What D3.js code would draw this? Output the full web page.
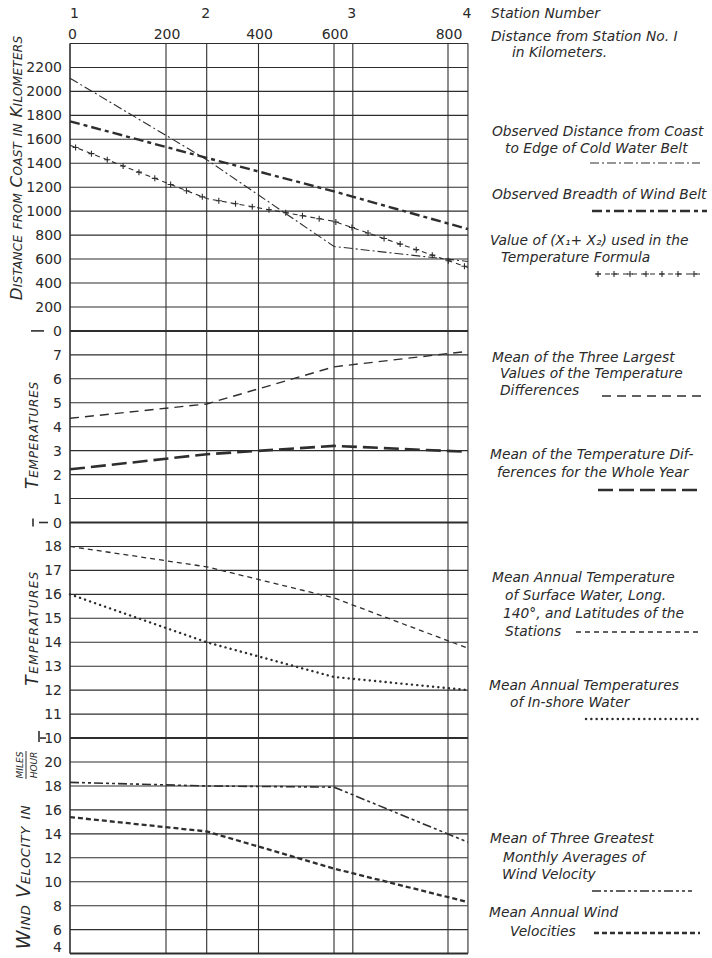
<!DOCTYPE html>
<html>
<head>
<meta charset="utf-8">
<script src="https://cdn.jsdelivr.net/npm/d3@7/dist/d3.min.js"></script>
<style>
  html, body { margin: 0; padding: 0; background: #fff; }
  svg { display: block; }
  .tick-label { font-family: "DejaVu Sans", sans-serif; font-size: 14px; fill: #2a2a2a; }
  .legend { font-family: "DejaVu Sans", sans-serif; font-style: italic; font-size: 13.8px; fill: #2a2a2a; }
  .title { font-family: "DejaVu Sans", sans-serif; font-style: italic; font-variant: small-caps; fill: #2a2a2a; }
</style>
</head>
<body>
<svg id="chart" width="712" height="958"></svg>
<script>
// Stations along the section and the distance scale along the top
const stationNumbers = ["1", "2", "3", "4"];
const stationKm = [0, 288, 633, 835];
const kmTicks = [0, 200, 400, 600, 800];
// Distances at which the observations are plotted
const sampleKm = [0, 288, 600, 835];

// Panel 1: distance from coast (km)
const coldWaterEdge = [2110, 1430, 705, 580];
const windBeltBreadth = [1750, 1445, 1165, 850];
const x1PlusX2 = [1550, 1105, 915, 530];
const distanceTicks = [0, 200, 400, 600, 800, 1000, 1200, 1400, 1600, 1800, 2000, 2200];

// Panel 2: temperature differences
const meanThreeLargestDiff = [4.35, 4.95, 6.5, 7.15];
const meanDiffWholeYear = [2.22, 2.85, 3.2, 2.95];
const diffTicks = [0, 1, 2, 3, 4, 5, 6, 7];

// Panel 3: water temperatures
const surfaceWaterTemp = [18.0, 17.15, 15.85, 13.75];
const inshoreWaterTemp = [16.0, 14.0, 12.55, 12.0];
const tempTicks = [10, 11, 12, 13, 14, 15, 16, 17, 18];

// Panel 4: wind velocity (miles per hour)
const windThreeGreatest = [18.3, 18.0, 17.9, 13.3];
const windAnnual = [15.4, 14.2, 11.1, 8.3];
const windTicks = [4, 6, 8, 10, 12, 14, 16, 18, 20];

const svg = d3.select("#chart");
const ink = "#2e2e2e";

// The hand-drawn distance scale is not uniform; map each grid distance to its ruled position
const kmGridPx = [70, 166, 258.5, 334, 448];
const x = d3.scaleLinear().domain(kmTicks).range(kmGridPx);

const plotTop = 43.5;
const rowH = 23.95;
// Stacked panels: [min, max, step per ruled row]
const panelDefs = [
  { min: 0, max: 2400, step: 200, ticks: distanceTicks },
  { min: 0, max: 8, step: 1, ticks: diffTicks },
  { min: 10, max: 19, step: 1, ticks: tempTicks },
  { min: 4, max: 22, step: 2, ticks: windTicks }
];
let cursor = plotTop;
const panels = panelDefs.map(p => {
  const rows = (p.max - p.min) / p.step;
  const top = cursor, bottom = cursor + rows * rowH;
  cursor = bottom;
  const y = d3.scaleLinear().domain([p.min, p.max]).range([bottom, top]);
  return Object.assign({}, p, { top, bottom, y });
});
const plotBottom = cursor;
const xLeft = x(0), xRight = x(stationKm[stationKm.length - 1]);

// Horizontal rulings
const g = svg.append("g");
panels.forEach(p => {
  const vals = d3.range(p.min, p.max + p.step / 2, p.step);
  g.selectAll(null).data(vals).enter().append("line")
    .attr("x1", xLeft).attr("x2", xRight)
    .attr("y1", d => p.y(d)).attr("y2", d => p.y(d))
    .attr("stroke", ink)
    .attr("stroke-width", d => d === p.min ? 2 : 1.1);
});
// Vertical rulings: distance grid and station positions
const vLines = kmTicks.concat(stationKm);
g.selectAll(null).data(vLines).enter().append("line")
  .attr("x1", d => x(d)).attr("x2", d => x(d))
  .attr("y1", plotTop).attr("y2", plotBottom)
  .attr("stroke", ink).attr("stroke-width", 1.1);

// Top labels
svg.selectAll(null).data(stationKm).enter().append("text")
  .attr("class", "tick-label")
  .attr("x", d => x(d)).attr("y", 18)
  .attr("text-anchor", (d, i) => i === 0 ? "start" : "middle")
  .attr("dx", (d, i) => i === 0 ? 0 : -1)
  .text((d, i) => stationNumbers[i]);
svg.selectAll(null).data(kmTicks).enter().append("text")
  .attr("class", "tick-label")
  .attr("x", d => x(d)).attr("y", 38.5)
  .attr("text-anchor", (d, i) => i === 0 ? "start" : "middle")
  .attr("dx", (d, i) => i === 0 ? -2 : 1)
  .text(d => d);

// Left tick labels (the lowest one sits against the bottom edge)
panels.forEach(p => {
  svg.selectAll(null).data(p.ticks).enter().append("text")
    .attr("class", "tick-label")
    .attr("x", 62).attr("y", d => Math.min(p.y(d) + 5, 952))
    .attr("text-anchor", "end")
    .text(d => d);
});
// Short dashes marking each panel's base line
const baseMarks = [
  { p: 0, x1: 31, x2: 44 },
  { p: 1, x1: 39, x2: 48 },
  { p: 2, x1: 40, x2: 46 }
];
baseMarks.forEach(m => {
  const yy = panels[m.p].y(panels[m.p].min);
  svg.append("line").attr("x1", m.x1).attr("x2", m.x2).attr("y1", yy).attr("y2", yy)
    .attr("stroke", ink).attr("stroke-width", 1.6);
});
svg.append("line").attr("x1", 33).attr("x2", 33)
  .attr("y1", panels[1].bottom - 4).attr("y2", panels[1].bottom + 4)
  .attr("stroke", ink).attr("stroke-width", 1.6);
svg.append("line").attr("x1", 39).attr("x2", 39)
  .attr("y1", panels[2].bottom - 7).attr("y2", panels[2].bottom + 4)
  .attr("stroke", ink).attr("stroke-width", 1.6);

// Rotated axis titles
function vTitle(text, cx, cy, size, spacing) {
  return svg.append("text").attr("class", "title")
    .attr("transform", `translate(${cx},${cy}) rotate(-90)`)
    .attr("text-anchor", "middle")
    .attr("dominant-baseline", "middle")
    .style("font-size", size + "px")
    .style("letter-spacing", (spacing || 0) + "px")
    .text(text);
}
vTitle("Distance from Coast in Kilometers", 17, 168, 16.5, 0.3);
vTitle("Temperatures", 33, 435, 17, 0.8);
vTitle("Temperatures", 33, 628, 17, 1.4);
vTitle("Wind Velocity in", 24, 877, 19, 0.6);
// miles / hour fraction
const frac = svg.append("g").attr("transform", "translate(26,765) rotate(-90)");
frac.append("text").attr("class", "title").attr("text-anchor", "middle")
  .attr("y", -3).style("font-size", "13.5px").text("miles");
frac.append("text").attr("class", "title").attr("text-anchor", "middle")
  .attr("y", 11).style("font-size", "13.5px").text("hour");
frac.append("line").attr("x1", -14).attr("x2", 14).attr("y1", 0).attr("y2", 0)
  .attr("stroke", ink).attr("stroke-width", 1);

// Series styling
const styles = {
  cold: { w: 1.1, dash: "9,3,2,3" },
  wind: { w: 2.4, dash: "10,4,4,4" },
  plus: { w: 1.1, dash: "5,4" },
  largest: { w: 1.4, dash: "9,6" },
  whole: { w: 2.6, dash: "15,6" },
  surface: { w: 1.3, dash: "5,4" },
  inshore: { w: 2.4, dash: "0.1,5.2", cap: "round" },
  greatest: { w: 1.6, dash: "9,3,3,3,3,3" },
  annual: { w: 2.3, dash: "5,3" }
};

function drawSeries(panel, values, st) {
  const line = d3.line().x((d, i) => x(sampleKm[i])).y(d => panel.y(d));
  return svg.append("path").datum(values)
    .attr("d", line)
    .attr("fill", "none")
    .attr("stroke", ink)
    .attr("stroke-width", st.w)
    .attr("stroke-dasharray", st.dash)
    .attr("stroke-linecap", st.cap || "butt");
}
function plusMarks(path, spacing, offset) {
  const node = path.node();
  const len = node.getTotalLength();
  const pts = d3.range(offset, len, spacing).map(l => node.getPointAtLength(l));
  svg.selectAll(null).data(pts).enter().append("path")
    .attr("d", d => `M${d.x - 3},${d.y}h6M${d.x},${d.y - 3}v6`)
    .attr("stroke", ink).attr("stroke-width", 1.1);
}

drawSeries(panels[0], coldWaterEdge, styles.cold);
drawSeries(panels[0], windBeltBreadth, styles.wind);
plusMarks(drawSeries(panels[0], x1PlusX2, styles.plus), 17, 6);
drawSeries(panels[1], meanThreeLargestDiff, styles.largest);
drawSeries(panels[1], meanDiffWholeYear, styles.whole);
drawSeries(panels[2], surfaceWaterTemp, styles.surface);
drawSeries(panels[2], inshoreWaterTemp, styles.inshore);
drawSeries(panels[3], windThreeGreatest, styles.greatest);
drawSeries(panels[3], windAnnual, styles.annual);

// Right-hand key
const keyText = [
  { x: 491, y: 18, t: "Station Number" },
  { x: 491, y: 41, t: "Distance from Station No. I" },
  { x: 512, y: 57, t: "in Kilometers." },
  { x: 492, y: 136, t: "Observed Distance from Coast" },
  { x: 505, y: 153, t: "to Edge of Cold Water Belt" },
  { x: 492, y: 199, t: "Observed Breadth of Wind Belt" },
  { x: 490, y: 245, t: "Value of (X\u2081+ X\u2082) used in the" },
  { x: 501, y: 262, t: "Temperature Formula" },
  { x: 492, y: 362, t: "Mean of the Three Largest" },
  { x: 500, y: 378, t: "Values of the Temperature" },
  { x: 500, y: 395, t: "Differences" },
  { x: 490, y: 459, t: "Mean of the Temperature Dif-" },
  { x: 497, y: 477, t: "ferences  for the Whole Year" },
  { x: 492, y: 582, t: "Mean Annual Temperature" },
  { x: 505, y: 600, t: "of Surface Water, Long." },
  { x: 503, y: 618, t: "140\u00b0, and Latitudes of the" },
  { x: 505, y: 636, t: "Stations" },
  { x: 489, y: 690, t: "Mean Annual Temperatures" },
  { x: 510, y: 707, t: "of In-shore Water" },
  { x: 490, y: 843, t: "Mean of Three Greatest" },
  { x: 503, y: 862, t: "Monthly Averages of" },
  { x: 502, y: 879, t: "Wind Velocity" },
  { x: 489, y: 917, t: "Mean Annual Wind" },
  { x: 510, y: 936, t: "Velocities" }
];
svg.selectAll(null).data(keyText).enter().append("text")
  .attr("class", "legend")
  .attr("x", d => d.x).attr("y", d => d.y)
  .text(d => d.t);

const keySamples = [
  { st: styles.cold, x1: 590, x2: 700, y: 163 },
  { st: styles.wind, x1: 592, x2: 707, y: 211 },
  { st: styles.plus, x1: 596, x2: 702, y: 274, plus: true },
  { st: styles.largest, x1: 602, x2: 702, y: 396 },
  { st: styles.whole, x1: 598, x2: 702, y: 490 },
  { st: styles.surface, x1: 576, x2: 700, y: 632 },
  { st: styles.inshore, x1: 586, x2: 700, y: 719 },
  { st: styles.greatest, x1: 592, x2: 692, y: 891 },
  { st: styles.annual, x1: 594, x2: 700, y: 933 }
];
keySamples.forEach(k => {
  const p = svg.append("path")
    .attr("d", `M${k.x1},${k.y}H${k.x2}`)
    .attr("fill", "none").attr("stroke", ink)
    .attr("stroke-width", k.st.w)
    .attr("stroke-dasharray", k.st.dash)
    .attr("stroke-linecap", k.st.cap || "butt");
  if (k.plus) plusMarks(p, 16, 2);
});
</script>
</body>
</html>
